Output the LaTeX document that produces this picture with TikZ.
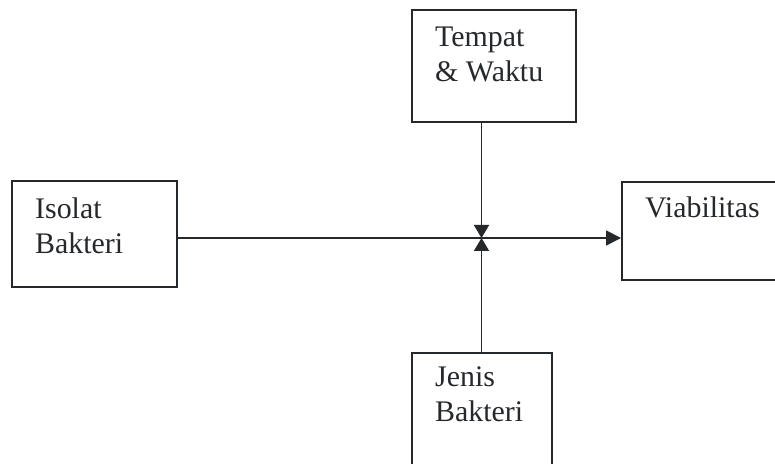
\documentclass[tikz,border=0pt]{standalone}
\usepackage{fontspec}
\setmainfont{Liberation Serif}
\usetikzlibrary{arrows.meta}
\definecolor{ink}{HTML}{26292C}
\tikzset{
  x=1bp, y=-1bp,
  box/.style={draw=ink, line width=2bp, rectangle, inner sep=0pt},
  lbl/.style={anchor=north west, inner sep=0pt, align=left, text=ink,
              font=\fontsize{30}{35}\selectfont},
  flow/.style={draw=ink, line width=1.8bp, -{Triangle[length=15bp,width=15bp]}},
  feed/.style={draw=ink, line width=1.8bp, -{Triangle[length=13bp,width=15bp]}}
}
\begin{document}
\begin{tikzpicture}
\useasboundingbox (0,0) rectangle (775,464);
\clip (0,0) rectangle (775,464);
\fill[white] (0,0) rectangle (775,464);

% boxes
\node[box, minimum width=164bp, minimum height=112bp] (tempat) at (494,66) {};
\node[box, minimum width=165bp, minimum height=106bp] (isolat) at (94.5,234) {};
\node[box, minimum width=178bp, minimum height=98bp] (viab) at (711,231) {};
\node[box, minimum width=140bp, minimum height=127bp] (jenis) at (482,416.5) {};

% labels
\node[lbl] (tTempat) at (435,27) {Tempat\\\& Waktu};
\node[lbl] (tIsolat) at (35,198) {Isolat\\Bakteri};
\node[lbl] (tViab) at (645,197) {Viabilitas};
\node[lbl] (tJenis) at (435,367) {Jenis\\Bakteri};

% junction of the flows
\coordinate (j) at (481.5,238);

\draw[flow] (isolat.east |- j) -- (viab.west |- j);
\draw[feed] (tempat.south -| j) -- (j);
\draw[feed] (jenis.north -| j) -- (j);
\end{tikzpicture}
\end{document}
